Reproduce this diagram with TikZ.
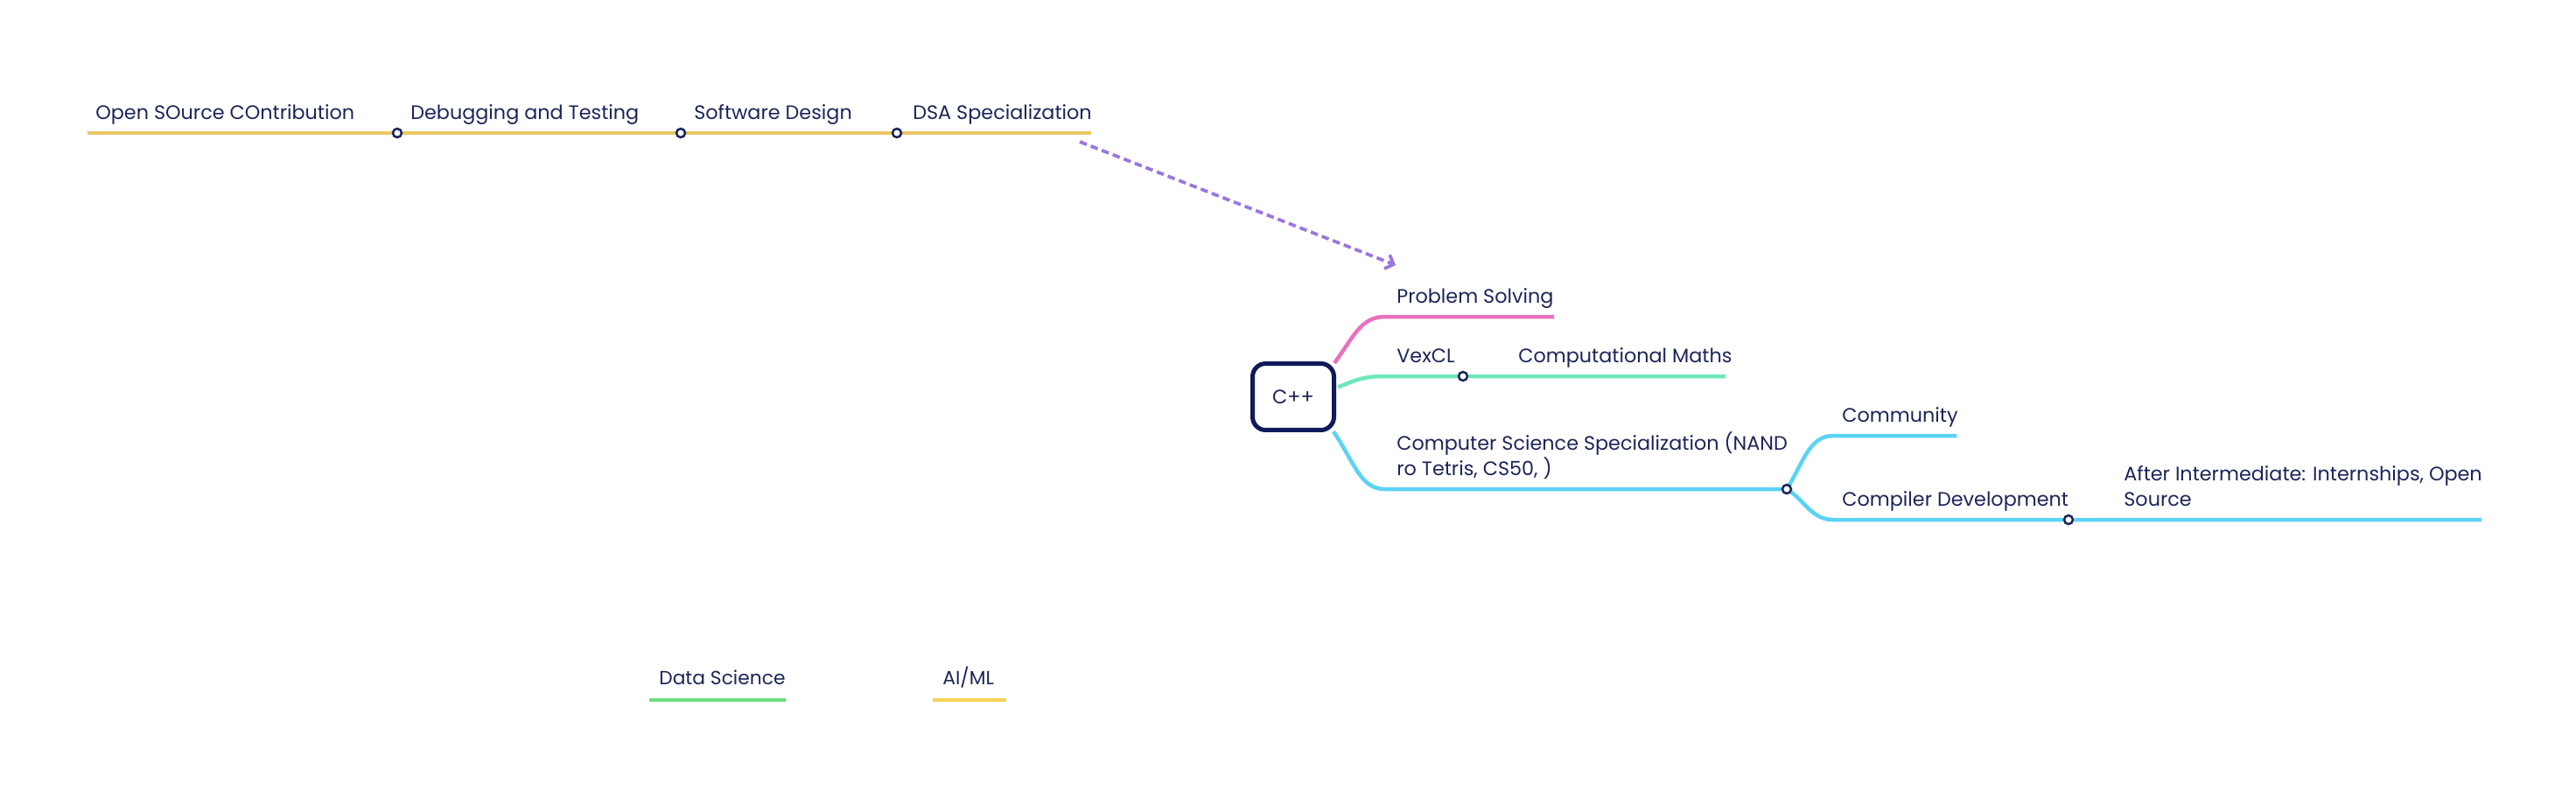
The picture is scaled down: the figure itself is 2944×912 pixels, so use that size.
\documentclass[tikz,border=0pt]{standalone}
\usepackage{fontspec}
\setmainfont{Poppins}
\usetikzlibrary{calc,positioning,arrows.meta}
\pgfdeclarelayer{back}
\pgfsetlayers{back,main}
\definecolor{ink}{HTML}{1B2559}
\definecolor{rootline}{HTML}{0E1A5A}
\definecolor{mustard}{HTML}{E9C864}
\definecolor{sun}{HTML}{F8D254}
\definecolor{rose}{HTML}{E872C0}
\definecolor{mint}{HTML}{6EE8B8}
\definecolor{sky}{HTML}{5CD3F5}
\definecolor{leaf}{HTML}{6BDC80}
\definecolor{lilac}{HTML}{9A76E0}
\tikzstyle{topic} = [text=ink, anchor=south west, inner sep=0pt, text depth=0pt,
    align=left, font=\fontsize{12.7}{16.5}\selectfont]
\tikzstyle{bigtopic} = [topic, font=\fontsize{12.4}{17}\selectfont]
\tikzstyle{root} = [draw=rootline, line width=0.1cm, rounded corners=0.3cm, rectangle,
    minimum width=1.86cm, minimum height=1.52cm, text=ink,
    font=\fontsize{12.7}{16.5}\selectfont]
\tikzstyle{junctn} = [draw=ink, fill=white, circle, line width=0.05cm,
    minimum size=0.2cm, inner sep=0pt]
\tikzstyle{branch} = [line width=0.09cm]
\tikzstyle{link} = [draw=lilac, line width=0.075cm, dash pattern=on 0.17cm off 0.1cm,
    -{Straight Barb[length=0.16cm,width=0.34cm]}]

\begin{document}
\begin{tikzpicture}[x=0.02cm,y=-0.02cm]
\useasboundingbox (0,0) rectangle (2944,912);

% road to C++
\coordinate (leftof_oscontrib) at (100,152);
\coordinate (rightof_dsaspec) at (1247,152);
\node (junctn_debug) [junctn] at (454,152) {};
\node (junctn_swdesign) [junctn] at (778,152) {};
\node (junctn_dsa) [junctn] at (1025,152) {};
\node (oscontrib) [topic] at ($(leftof_oscontrib)+(9,-15)$) {Open SOurce COntribution};
\node (debugtest) [topic] at ($(junctn_debug)+(15,-15)$) {Debugging and Testing};
\node (swdesign) [topic] at ($(junctn_swdesign)+(15,-15)$) {Software Design};
\node (dsaspec) [topic] at ($(junctn_dsa)+(18,-15)$) {DSA Specialization};

% central topic
\node (cpp) [root] at (1478,453.5) {C++};
\coordinate (leftof_probsolv) at (1583,362);
\coordinate (rightof_probsolv) at (1776,362);
\coordinate (leftof_vexcl) at (1583,430);
\node (junctn_vexcl) [junctn] at (1672,430) {};
\coordinate (rightof_compmath) at (1972,430);
\coordinate (leftof_csspec) at (1583,559);
\node (junctn_csspec) [junctn] at (2042,559) {};
\coordinate (leftof_community) at (2095,498);
\coordinate (rightof_community) at (2236,498);
\coordinate (leftof_compdev) at (2095,594);
\node (junctn_compdev) [junctn] at (2364,594) {};
\coordinate (rightof_afterint) at (2836,594);

\node (probsolv) [topic] at ($(leftof_probsolv)+(13,-15)$) {Problem Solving};
\node (vexcl) [topic] at ($(leftof_vexcl)+(13,-15)$) {VexCL};
\node (compmath) [topic] at ($(junctn_vexcl)+(63,-15)$) {Computational Maths};
\node (csspec) [topic] at ($(leftof_csspec)+(13,-15)$) {Computer Science Specialization (NAND\\ro Tetris, CS50, )};
\node (community) [topic] at ($(leftof_community)+(10,-15)$) {Community};
\node (compdev) [topic] at ($(leftof_compdev)+(10,-15)$) {Compiler Development};
\node (afterint) [topic] at ($(junctn_compdev)+(63,-15)$) {After Intermediate: Internships, Open\\Source};

% floating topics
\coordinate (leftof_datasci) at (742,800);
\coordinate (rightof_datasci) at (898,800);
\coordinate (leftof_aiml) at (1066,800);
\coordinate (rightof_aiml) at (1150,800);
\node (datasci) [bigtopic] at ($(leftof_datasci)+(11,-17)$) {Data Science};
\node (aiml) [bigtopic] at ($(leftof_aiml)+(11,-17)$) {AI/ML};

\begin{pgfonlayer}{back}
\draw[branch,mustard] (leftof_oscontrib) -- (junctn_debug) -- (junctn_swdesign) -- (junctn_dsa) -- (rightof_dsaspec);
\draw[branch,rose] ([shift={(-2,2)}]cpp.north east) .. controls +(22,-30) and +(-28,0) .. (leftof_probsolv) -- (rightof_probsolv);
\draw[branch,mint] ([shift={(2,-11)}]cpp.east) .. controls +(20,-8) and +(-25,0) .. (leftof_vexcl) -- (junctn_vexcl) -- (rightof_compmath);
\draw[branch,sky] ([shift={(-3,-1)}]cpp.south east) .. controls +(25,38) and +(-28,0) .. (leftof_csspec) -- (junctn_csspec);
\draw[branch,sky] (junctn_csspec.center) .. controls +(18,-28) and +(-28,0) .. (leftof_community) -- (rightof_community);
\draw[branch,sky] (junctn_csspec.center) .. controls +(20,12) and +(-25,0) .. (leftof_compdev) -- (junctn_compdev) -- (rightof_afterint);
\draw[branch,leaf] (leftof_datasci) -- (rightof_datasci);
\draw[branch,sun] (leftof_aiml) -- (rightof_aiml);
\end{pgfonlayer}

\draw[link] ($(rightof_dsaspec)+(-13,10)$) -- ($(leftof_probsolv)+(12,-59)$);

\end{tikzpicture}
\end{document}
